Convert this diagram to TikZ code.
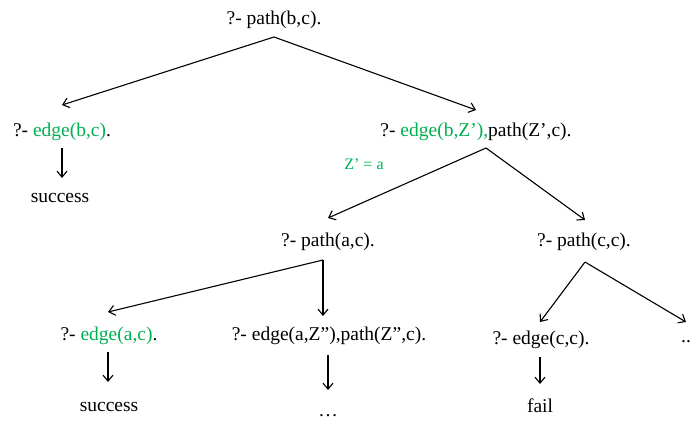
\documentclass[tikz,border=0pt]{standalone}
\usepackage{fontspec}
\setmainfont{Liberation Serif}
\usetikzlibrary{arrows.meta}
\definecolor{goalgreen}{RGB}{0,176,80}
\begin{document}
\begin{tikzpicture}[x=1pt,y=-1pt,
  goal/.style={anchor=base,inner sep=0pt,font=\fontsize{19.5}{22}\selectfont},
  lbl/.style={anchor=base,inner sep=0pt,text=goalgreen,font=\fontsize{16}{18}\selectfont},
  conn/.style={line width=1.1pt,-{Straight Barb[length=6pt,width=10pt,line width=1.1pt]}}]
\useasboundingbox (0,0) rectangle (694,423);
% nodes
\node[goal] (root) at (274,24) {?- path(b,c).};
\node[goal] (e1) at (62,136) {?- \textcolor{goalgreen}{edge(b,c)}.};
\node[goal] (s1) at (60,202) {success};
\node[goal] (e2) at (476,136) {?- \textcolor{goalgreen}{edge(b,Z’),}path(Z’,c).};
\node[lbl] (z) at (364,169) {Z’ = a};
\node[goal] (p1) at (328,246) {?- path(a,c).};
\node[goal] (p2) at (584,246) {?- path(c,c).};
\node[goal] (e3) at (109,340) {?- \textcolor{goalgreen}{edge(a,c)}.};
\node[goal] (e4) at (329,340) {?- edge(a,Z”),path(Z”,c).};
\node[goal] (e5) at (541,344) {?- edge(c,c).};
\node[goal] (d1) at (686,342) {..};
\node[goal] (s2) at (109,411) {success};
\node[goal] (d2) at (328,416) {\dots};
\node[goal] (f) at (540,412) {fail};
% connector points
\coordinate (root-a) at (274,37);
\coordinate (e1-t) at (62,105);
\coordinate (e2-t) at (476,110);
\coordinate (e1-a) at (62,148);
\coordinate (s1-t) at (62,178);
\coordinate (e2-a) at (486,148);
\coordinate (p1-t) at (328,218);
\coordinate (p2-t) at (585,220);
\coordinate (p1-a) at (323,260);
\coordinate (e3-t) at (108,312);
\coordinate (e4-t) at (323,316);
\coordinate (p2-a) at (585,262);
\coordinate (e5-t) at (540,322);
\coordinate (d1-t) at (686,322);
\coordinate (e3-a) at (108,352);
\coordinate (s2-t) at (108,382);
\coordinate (e4-a) at (328,355);
\coordinate (d2-t) at (328,390);
\coordinate (e5-a) at (540,357);
\coordinate (f-t) at (540,384);
% connectors
\draw[conn] (root-a) -- (e1-t);
\draw[conn] (root-a) -- (e2-t);
\draw[conn] (e1-a) -- (s1-t);
\draw[conn] (e2-a) -- (p1-t);
\draw[conn] (e2-a) -- (p2-t);
\draw[conn] (p1-a) -- (e3-t);
\draw[conn] (p1-a) -- (e4-t);
\draw[conn] (p2-a) -- (e5-t);
\draw[conn] (p2-a) -- (d1-t);
\draw[conn] (e3-a) -- (s2-t);
\draw[conn] (e4-a) -- (d2-t);
\draw[conn] (e5-a) -- (f-t);
\end{tikzpicture}
\end{document}
